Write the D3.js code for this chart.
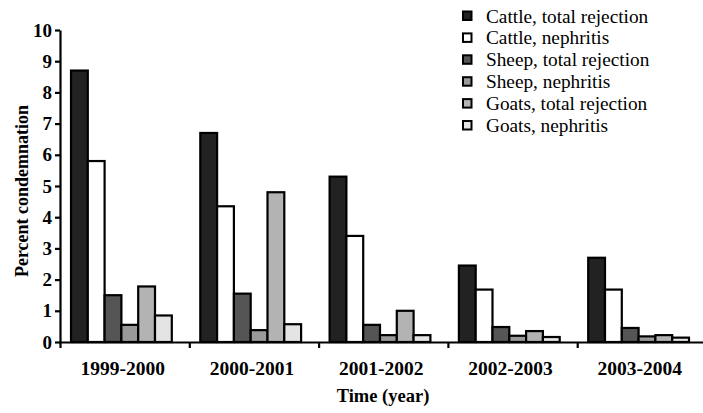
<!DOCTYPE html>
<html><head><meta charset="utf-8">
<script src="https://cdn.jsdelivr.net/npm/d3@7/dist/d3.min.js"></script>
<style>
body{margin:0;background:#fff;}
svg{display:block;font-family:"Liberation Serif","Times New Roman",serif;}
</style></head>
<body><svg id="c" width="703" height="413"></svg>
<script>
const years = ["1999-2000","2000-2001","2001-2002","2002-2003","2003-2004"];
const seriesNames = ["Cattle, total rejection","Cattle, nephritis","Sheep, total rejection","Sheep, nephritis","Goats, total rejection","Goats, nephritis"];
const cattleTotal = [8.7, 6.7, 5.3, 2.45, 2.7];
const cattleNeph  = [5.8, 4.35, 3.4, 1.68, 1.68];
const sheepTotal  = [1.5, 1.55, 0.55, 0.48, 0.45];
const sheepNeph   = [0.55, 0.38, 0.22, 0.2, 0.18];
const goatsTotal  = [1.78, 4.8, 1.0, 0.35, 0.22];
const goatsNeph   = [0.85, 0.57, 0.22, 0.16, 0.14];
const yTicks = [0,1,2,3,4,5,6,7,8,9,10];
const colors = ["#222222","#ffffff","#555555","#9a9a9a","#b3b3b3","#e4e4e4"];

const allSeries = [cattleTotal, cattleNeph, sheepTotal, sheepNeph, goatsTotal, goatsNeph];
const svg = d3.select("#c");

const x0 = d3.scaleBand().domain(years).range([60, 706.5]).padding(0);
const x1 = d3.scaleBand().domain(d3.range(6)).range([11, 11 + 6*16.8]).padding(0);
const y = d3.scaleLinear().domain([0, 10]).range([342, 30]);
const color = d3.scaleOrdinal().domain(d3.range(6)).range(colors);

// bars
const g = svg.append("g");
years.forEach((yr, i) => {
  allSeries.forEach((s, j) => {
    g.append("rect")
      .attr("x", x0(yr) + x1(j))
      .attr("y", y(s[i]))
      .attr("width", x1.bandwidth())
      .attr("height", y(0) - y(s[i]))
      .attr("fill", color(j))
      .attr("stroke", "#000")
      .attr("stroke-width", 2.2);
  });
});

// y axis
const yAxis = svg.append("g").attr("transform", "translate(60,0)")
  .call(d3.axisLeft(y).tickValues(yTicks).tickFormat(d3.format("d")).tickSize(5).tickSizeOuter(0).tickPadding(3));
yAxis.selectAll("path,line").attr("stroke", "#000").attr("stroke-width", 2.2);
yAxis.selectAll("text").attr("font-family", "Liberation Serif").attr("font-weight", "bold")
  .attr("font-size", 19).attr("fill", "#000");

// x axis (ticks at group boundaries)
const xb = d3.scaleLinear().domain([0, years.length]).range(x0.range());
const xAxis = svg.append("g").attr("transform", "translate(0,342)")
  .call(d3.axisBottom(xb).tickValues(d3.range(years.length)).tickFormat("").tickSize(6).tickSizeOuter(0));
xAxis.selectAll("path,line").attr("stroke", "#000").attr("stroke-width", 2.2);

svg.append("g").selectAll("text").data(years).join("text")
  .attr("x", d => x0(d) + x0.bandwidth()/2 - 2)
  .attr("y", 375)
  .attr("text-anchor", "middle")
  .attr("font-weight", "bold").attr("font-size", 19.5)
  .text(d => d);

svg.append("text").attr("x", 383).attr("y", 402).attr("text-anchor", "middle")
  .attr("font-weight", "bold").attr("font-size", 18.5).text("Time (year)");

svg.append("text").attr("transform", "translate(28,191) rotate(-90)").attr("text-anchor", "middle")
  .attr("font-weight", "bold").attr("font-size", 18).text("Percent condemnation");

// legend
const lg = svg.append("g").attr("transform", "translate(463,16)");
const rows = lg.selectAll("g").data(seriesNames).join("g")
  .attr("transform", (d, i) => `translate(0,${i*21.9})`);
rows.append("rect").attr("x", 0).attr("y", -4.5).attr("width", 8.5).attr("height", 8.5)
  .attr("fill", (d, i) => color(i)).attr("stroke", "#000").attr("stroke-width", 2);
rows.append("text").attr("x", 23).attr("y", 6.5).attr("font-size", 19.3).text(d => d);
</script></body></html>
